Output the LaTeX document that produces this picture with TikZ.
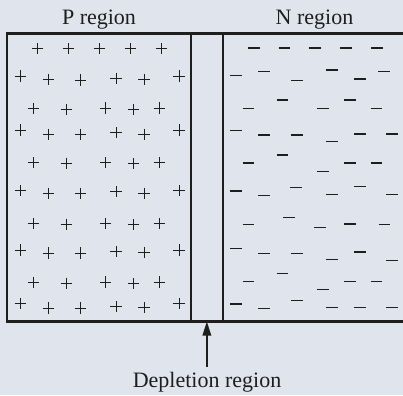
\documentclass[tikz,border=0pt]{standalone}
\usepackage{fontspec}
\setmainfont{Liberation Serif}
\usetikzlibrary{arrows.meta}
\definecolor{bgc}{RGB}{224,228,237}
\definecolor{ink}{RGB}{30,30,30}
\tikzset{
  regionbox/.style={draw=ink, line width=2.3pt, minimum height=288pt, inner sep=0pt, outer sep=0pt},
  lbl/.style={font=\fontsize{22}{24}\selectfont, text=ink, anchor=base, inner sep=0pt},
  plussign/.style={draw=ink, line width=0.9pt},
  minussign/.style={draw=ink, line width=1.3pt},
  pointer/.style={draw=ink, line width=1.6pt, -{Triangle[length=14pt,width=8.5pt]}}
}
\begin{document}
\begin{tikzpicture}[x=1pt,y=-1pt]
\fill[bgc] (0,0) rectangle (403,395);
\useasboundingbox (0,0) rectangle (403,395);
% boxes
\node[regionbox, minimum width=184pt] (pbox) at (99,177.5) {};
\node[regionbox, minimum width=31.7pt] (dep) at (206.85,177.5) {};
\node[regionbox, minimum width=190pt] (nbox) at (317.7,177.5) {};
% labels
\node[lbl] (plabel) at (99,24.5) {P region};
\node[lbl] (nlabel) at (314.5,24.5) {N region};
\node[lbl] (dlabel) at (207,387) {Depletion region};
\coordinate (arrstart) at (206.85,367);
\draw[pointer] (arrstart) -- (dep.south);
% plus signs
\foreach \x/\y in {
 37.7/48.7, 68.3/48.7, 99.3/48.7, 130.7/48.7, 161.3/48.7,
 20.3/76, 48.3/79.3, 80.3/80, 116/78.3, 144/79.3, 179/76,
 33.3/108.3, 66.3/109.3, 105.7/108, 133.7/109.3, 159.3/108,
 20.3/130, 48.3/134.3, 80.3/134.3, 116/132.7, 144/134.3, 179/130,
 33.3/162.7, 66.3/163.3, 105.7/162.7, 133.7/163.7, 159.3/162.7,
 20.3/190.7, 48.3/193.3, 80.3/193.3, 116/191.7, 144/193.3, 179/190.7,
 33.3/223.3, 66.3/224.3, 105.7/223.3, 133.7/224.7, 159.3/223.3,
 20.3/250, 48.3/253, 80.3/253, 116/251.7, 144/252.3, 179/250,
 33.3/282.3, 66.3/283.3, 105.7/282, 133.7/283.7, 159.3/282,
 20.3/303.3, 48.3/308, 80.3/308, 116/306.7, 144/307.7, 179/303.3}
 {\path[plussign] (\x-5.6,\y) -- (\x+5.6,\y) (\x,\y-5.6) -- (\x,\y+5.6);}
% minus signs
\foreach \x/\y in {
 253.7/48, 284.3/48, 315/48, 346/48, 377/48,
 235.7/75.3, 264/71.3, 296.7/80.3, 331.7/70, 359.7/79, 384/71.3,
 282.3/100, 349.7/100, 248.3/108.3, 323/108.3, 376.3/108.3,
 235.7/130.3, 264/135, 296.7/135, 331.7/141.3, 359.7/134, 392/134,
 282.3/155, 248.3/163, 349.7/163, 376.3/163, 323/171.3,
 235.7/191, 264/195.3, 296/187.3, 331.7/194.3, 359.7/186.3, 392/194.3,
 289/217.3, 248.3/224.3, 320/227.3, 349.7/224, 384.3/224.3,
 235.7/248.3, 264/253.3, 296.7/253.3, 331.7/259.3, 359.7/252, 392/260.3,
 282.3/273.3, 248.3/281.3, 349.7/281.3, 376.3/281.3, 323/289.3,
 235.7/304, 264/308.3, 296.7/300.3, 331.7/307.3, 359.7/307.3, 392/307.3}
 {\path[minussign] (\x-5.8,\y) -- (\x+5.8,\y);}
\end{tikzpicture}
\end{document}
